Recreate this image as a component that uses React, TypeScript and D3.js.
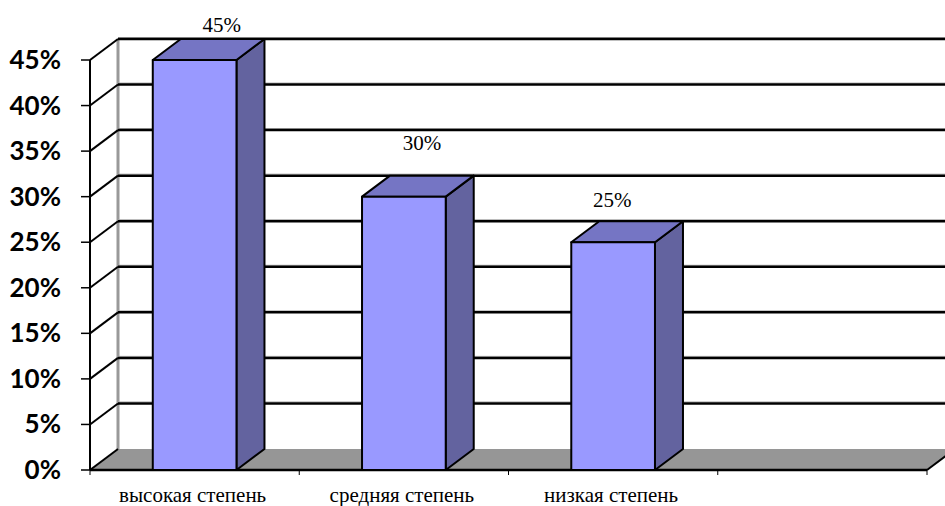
import React from "react";
import * as d3 from "d3";

const categories = ["высокая степень", "средняя степень", "низкая степень", ""];
const values = [45, 30, 25, null];
const valueLabels = ["45%", "30%", "25%", ""];
const yTicks = [0, 5, 10, 15, 20, 25, 30, 35, 40, 45];

const W = 945;
const H = 506;
const DX = 28;
const DY = -21;
// layout nudges for the value labels (as placed by the original chart)
const LABEL_NUDGE: [number, number][] = [[27, -28], [18, -47], [-1, -35], [0, 0]];

export default function App() {
  const x = d3.scaleBand<string>().domain(categories.map((c, i) => String(i))).range([90, 927]).paddingInner(0).paddingOuter(0);
  const y = d3.scaleLinear().domain([0, 45]).range([470, 60]);
  const bw = x.bandwidth();
  const barW = bw / 2.5;
  const right = 927;

  const poly = (pts: [number, number][]) => pts.map((p) => p.join(",")).join(" ");

  return (
    <svg width={W} height={H} style={{ position: "absolute", left: 0, top: 0, background: "#fff" }}>
      <line x1={90 + DX} x2={90 + DX} y1={y(45) + DY} y2={y(0) + DY} stroke="#999" strokeWidth={3} />
      {yTicks.filter((t) => t > 0).map((t) => (
        <g key={"g" + t}>
          <line x1={90 + DX} x2={right + DX} y1={y(t) + DY - 1.5} y2={y(t) + DY - 1.5} stroke="#aaa" strokeWidth={1} />
          <line x1={90 + DX} x2={right + DX} y1={y(t) + DY} y2={y(t) + DY} stroke="#000" strokeWidth={2.5} />
        </g>
      ))}
      {yTicks.filter((t) => t > 0).map((t) => (
        <line key={"d" + t} x1={90} y1={y(t)} x2={90 + DX} y2={y(t) + DY} stroke="#000" strokeWidth={2} />
      ))}
      <polygon
        points={poly([[90, y(0)], [90 + DX, y(0) + DY], [right + DX, y(0) + DY], [right, y(0)]])}
        fill="#969696"
        stroke="none"
      />
      <line x1={90} y1={y(0)} x2={90 + DX} y2={y(0) + DY} stroke="#000" strokeWidth={2} />
      <line x1={right} y1={y(0)} x2={right + DX} y2={y(0) + DY} stroke="#000" strokeWidth={2} />
      <line x1={90} x2={90} y1={y(45)} y2={y(0)} stroke="#000" strokeWidth={2} />
      {yTicks.map((t) => (
        <line key={"t" + t} x1={81} x2={90} y1={y(t)} y2={y(t)} stroke="#000" strokeWidth={1.5} />
      ))}
      <line x1={90} x2={right} y1={y(0)} y2={y(0)} stroke="#000" strokeWidth={2.5} />
      {categories.map((c, i) => (
        <line key={"xt" + i} x1={x(String(i))!} x2={x(String(i))!} y1={y(0)} y2={y(0) + 5} stroke="#000" strokeWidth={1} />
      ))}
      <line x1={right} x2={right} y1={y(0)} y2={y(0) + 5} stroke="#000" strokeWidth={1} />
      {values.map((v, i) => {
        if (v == null) return null;
        const cx = x(String(i))! + bw / 2;
        const x0 = cx - barW / 2;
        const x1 = cx + barW / 2;
        const yt = y(v);
        const yb = y(0);
        return (
          <g key={"b" + i} stroke="#000" strokeWidth={2} strokeLinejoin="round">
            <polygon points={poly([[x1, yt], [x1 + DX, yt + DY], [x1 + DX, yb + DY], [x1, yb]])} fill="#63639F" />
            <polygon points={poly([[x0, yt], [x0 + DX, yt + DY], [x1 + DX, yt + DY], [x1, yt]])} fill="#7575C4" />
            <rect x={x0} y={yt} width={barW} height={yb - yt} fill="#9999FF" />
          </g>
        );
      })}
      {values.map((v, i) => {
        if (v == null) return null;
        const cx = x(String(i))! + bw / 2 + LABEL_NUDGE[i][0];
        const by = y(v) + LABEL_NUDGE[i][1];
        return (
          <text key={"l" + i} x={cx} y={by} textAnchor="middle" fontFamily="'Liberation Serif', serif" fontSize={21} fill="#000">
            {valueLabels[i]}
          </text>
        );
      })}
      {yTicks.map((t) => (
        <text key={"yl" + t} x={61} y={y(t) + 9} textAnchor="end" fontFamily="Lato, 'Liberation Sans', sans-serif" fontWeight="bold" fontSize={26} fill="#000">
          {t + "%"}
        </text>
      ))}
      {categories.map((c, i) =>
        c ? (
          <text key={"c" + i} x={x(String(i))! + bw / 2 - 2} y={502} textAnchor="middle" fontFamily="'Liberation Serif', serif" fontSize={21} fill="#000">
            {c}
          </text>
        ) : null
      )}
    </svg>
  );
}
